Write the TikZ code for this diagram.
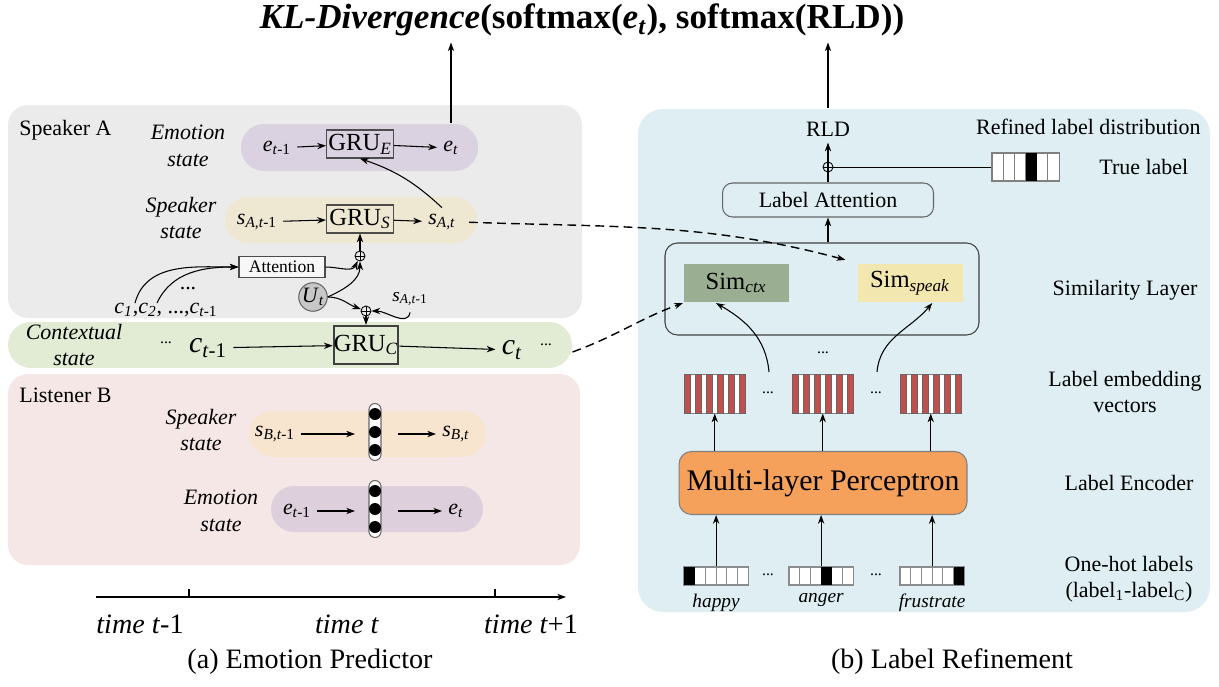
\documentclass[tikz,border=0pt]{standalone}
\usepackage{fontspec}
\setmainfont{LiberationSerif}[Extension=.ttf, UprightFont=*-Regular, BoldFont=*-Bold, ItalicFont=*-Italic, BoldItalicFont=*-BoldItalic]
\usepackage{xcolor}
\usepackage{tikz}
\usetikzlibrary{positioning, arrows.meta, fit}

\definecolor{paneA}{HTML}{EBEBEB}
\definecolor{paneB}{HTML}{F6E7E7}
\definecolor{paneR}{HTML}{DEEEF3}
\definecolor{ctxgreen}{HTML}{E2ECD5}
\definecolor{emopurple}{HTML}{DAD2E0}
\definecolor{emopurpleB}{HTML}{DDCFDB}
\definecolor{spkbeige}{HTML}{EEE8D2}
\definecolor{spkpeach}{HTML}{F8E5D0}
\definecolor{simgreen}{HTML}{9AAE91}
\definecolor{simyellow}{HTML}{F2E7AE}
\definecolor{mlporange}{HTML}{F5A05B}
\definecolor{embred}{HTML}{C0504D}

\newcommand{\ix}[2]{\textit{#1}\textsubscript{#2}}

\begin{document}
\begin{tikzpicture}[x=0.02cm, y=0.02cm, >={Stealth[length=5pt,width=3.6pt]}, line width=0.6pt,
    font=\fontsize{12.5}{15}\selectfont,
    pane/.style={rounded corners=0.4cm, inner sep=0pt},
    pill/.style={rounded corners=0.46cm, inner sep=0pt},
    gru/.style={draw=black!70, inner sep=0pt, minimum width=1.34cm, minimum height=0.56cm, font=\fontsize{14}{15}\selectfont},
    lbl/.style={align=center, font=\fontsize{12.5}{15.3}\selectfont\itshape},
    op/.style={circle, draw, inner sep=0pt, minimum size=0.2cm, line width=0.5pt,
      path picture={\draw (path picture bounding box.north) -- (path picture bounding box.south)
        (path picture bounding box.west) -- (path picture bounding box.east);}},
    dotcol/.style={draw=black!60, fill=white, rounded corners=0.12cm, minimum width=0.24cm, minimum height=1.14cm, inner sep=0pt},
    simbox/.style={minimum width=2.1cm, minimum height=0.78cm, inner sep=0pt, font=\fontsize{14}{16}\selectfont},
    side/.style={align=center, font=\fontsize{12.5}{14}\selectfont},
    ell/.style={font=\fontsize{9}{10}\selectfont},
    link/.style={->, dash pattern=on 5pt off 3pt, line width=0.8pt},
    figcap/.style={font=\fontsize{16}{19}\selectfont}]
  \useasboundingbox (0,0) rectangle (1219,-686);

  \node[pane, fill=paneA, fit={(8,-105) (582,-318)}] (spkA) {};
  \node[pill, fill=ctxgreen, fit={(8,-322) (572,-368)}] (ctx) {};
  \node[pane, fill=paneB, fit={(8,-374) (580,-565)}] (lisB) {};
  \node[pane, rounded corners=0.5cm, fill=paneR, fit={(638,-109) (1210,-612)}] (refine) {};
  \node[pill, fill=emopurple, fit={(241,-124) (478,-171)}] (emoA) {};
  \node[pill, fill=spkbeige, fit={(225,-197) (477,-243)}] (spA) {};
  \node[pill, fill=spkpeach, fit={(249,-411) (486,-457)}] (spB) {};
  \node[pill, fill=emopurpleB, fit={(271,-486) (483,-532)}] (emoB) {};

  \node[font=\fontsize{20}{24}\selectfont\bfseries] (kl) at (582,-20) {\textit{KL-Divergence}(softmax(\ix{e}{\textit{t}}), softmax(RLD))};

  % speaker A
  \node[anchor=west] (nmA) at (13,-130) {Speaker A};
  \node[lbl] (emoAl) at (188,-146) {Emotion\\state};
  \node[lbl] (spAl) at (181,-218) {Speaker\\state};
  \node (eA0) at (277,-148) {\ix{e}{\textit{t}-1}};
  \node[gru] (gruE) at (360,-144) {GRU\textsubscript{\textit{E}}};
  \node (eA1) at (451,-148) {\ix{e}{\textit{t}}};
  \node (sA0) at (257,-222) {\ix{s}{\textit{A,t}-1}};
  \node[gru] (gruS) at (360,-219) {GRU\textsubscript{\textit{S}}};
  \node (sA1) at (442,-222) {\ix{s}{\textit{A,t}}};
  \node[draw=black!70, fill=white!60!paneA, inner sep=0pt, minimum width=1.72cm, minimum height=0.42cm, font=\fontsize{10}{12}\selectfont] (att) at (282,-267) {Attention};
  \node (clist) at (166,-310) {\ix{c}{\textit{1}},\ix{c}{\textit{2}}, ...,\ix{c}{\textit{t}-1}};
  \node (cdots) at (188,-289) {...};
  \coordinate (cA) at (135,-303);
  \coordinate (cB) at (157,-303);
  \node[circle, draw=black!60, fill=black!22, minimum size=0.52cm, inner sep=0pt] (ut) at (313,-297) {\ix{U}{\textit{t}}};
  \node[op] (op1) at (360,-256) {};
  \node[op] (op2) at (366,-311) {};
  \node[font=\fontsize{11}{13}\selectfont] (sAprev) at (410,-299) {\ix{s}{\textit{A,t}-1}};

  % contextual state
  \node[lbl] (ctxl) at (74,-345) {Contextual\\state};
  \node[ell] (cdl) at (166,-343) {...};
  \node[font=\fontsize{17}{20}\selectfont] (c0) at (208,-348) {\ix{c}{\textit{t}-1}};
  \node[gru, draw=black!75, line width=1.2pt, minimum width=1.22cm, minimum height=0.76cm] (gruC) at (366,-345) {GRU\textsubscript{\textit{C}}};
  \node[font=\fontsize{17}{20}\selectfont] (c1) at (512,-350) {\ix{c}{\textit{t}}};
  \node[ell] (cdr) at (546,-345) {...};

  % listener B
  \node[anchor=west] (nmB) at (13,-395) {Listener B};
  \node[lbl] (spBl) at (201,-430) {Speaker\\state};
  \node[lbl] (emoBl) at (221,-511) {Emotion\\state};
  \node (sB0) at (275,-434) {\ix{s}{\textit{B,t}-1}};
  \node[dotcol] (colS) at (375,-432) {};
  \node (sB1) at (456,-434) {\ix{s}{\textit{B,t}}};
  \node (eB0) at (297,-511) {\ix{e}{\textit{t}-1}};
  \node[dotcol] (colE) at (375,-509) {};
  \node (eB1) at (456,-511) {\ix{e}{\textit{t}}};
  \foreach \col in {colS, colE}
    \foreach \d in {-18,0,18}
      \fill ([yshift=\d*0.02cm]\col.center) circle (6);

  % time axis
  \coordinate (t0) at (96,-597);
  \coordinate (t1) at (566,-597);
  \draw[->] (t0) -- (t1);
  \foreach \tx in {189,495}
    \draw (\tx,-589) -- (\tx,-597);
  \node[figcap] (tm0) at (140,-624) {\textit{time t}-1};
  \node[figcap] (tm1) at (347,-624) {\textit{time t}};
  \node[figcap] (tm2) at (531,-624) {\textit{time t}+1};
  \node[figcap] (capA) at (310,-662) {(a) Emotion Predictor};

  % label refinement
  \node (rld) at (828,-129) {RLD};
  \node[anchor=east] (rldl) at (1207,-127) {Refined label distribution};
  \node[op] (op3) at (828,-167) {};
  \foreach \k in {0,...,5}
    \filldraw[draw=black!50, fill=white] (992+\k*11.17,-153) rectangle ++(11.17,-28);
  \fill (992+3*11.17,-153) rectangle ++(11.17,-28);
  \node[fit={(992,-153) (1059,-181)}, inner sep=0pt] (truev) {};
  \node[anchor=west] (truel) at (1093,-167) {True label};
  \node[draw=black!60, rounded corners=0.2cm, minimum width=4.22cm, minimum height=0.68cm, inner sep=0pt] (latt) at (828,-200) {Label Attention};
  \node[draw=black!75, rounded corners=0.25cm, fit={(665,-243) (979,-335)}, inner sep=0pt] (sim) {};
  \node[simbox, fill=simgreen] (simctx) at (736,-283) {Sim\textsubscript{\textit{ctx}}};
  \node[simbox, fill=simyellow] (simspk) at (910,-283) {Sim\textsubscript{\textit{speak}}};
  \node[side] (siml) at (1125,-290) {Similarity Layer};
  \node[ell] (embdots) at (823,-353) {...};
  \foreach \gx [count=\g] in {684,792,900} {
    \filldraw[draw=black!50, line width=0.3pt, fill=white] (\gx,-374) rectangle ++(61.5,-39);
    \foreach \k in {0,...,5}
      \filldraw[draw=black!60, line width=0.3pt, fill=embred] (\gx+\k*11,-374) rectangle ++(6.5,-39);
    \node[fit={(\gx,-374) (\gx+61.5,-413)}, inner sep=0pt] (emb\g) {};
  }
  \node[ell] (ed1) at (768,-393) {...};
  \node[ell] (ed2) at (876,-393) {...};
  \coordinate (up1) at (769,-372);
  \coordinate (up2) at (877,-372);
  \node[side, font=\fontsize{12.5}{14.5}\selectfont] (embl) at (1125,-392) {Label embedding\\vectors};
  \node[draw=black!50, fill=mlporange, rounded corners=0.25cm, minimum width=5.76cm, minimum height=1.26cm, inner sep=0pt, font=\fontsize{17}{20}\selectfont] (mlp) at (823,-483) {Multi-layer Perceptron};
  \node[side] (encl) at (1129,-483) {Label Encoder};
  \foreach \ox/\hot/\emo [count=\g] in {684/0/happy, 789/3/anger, 900/5/frustrate} {
    \foreach \k in {0,...,5}
      \filldraw[draw=black!45, fill=white] (\ox+\k*10.7,-567) rectangle ++(10.7,-18);
    \fill (\ox+\hot*10.7,-567) rectangle ++(10.7,-18);
    \node[fit={(\ox,-567) (\ox+64.2,-585)}, inner sep=0pt] (oh\g) {};
    \node[font=\fontsize{11}{13}\selectfont\itshape, below=1pt of oh\g] (ohl\g) {\emo};
    \draw[->] (oh\g.north) -- (mlp.south -| oh\g);
    \draw[->] (mlp.north -| emb\g) -- (emb\g.south);
  }
  \node[ell] (od1) at (768,-575) {...};
  \node[ell] (od2) at (876,-575) {...};
  \node[side] (ohl) at (1129,-564) {One-hot labels};
  \node[side] (ohr) at (1129,-592) {(label\textsubscript{1}-label\textsubscript{C})};
  \node[figcap] (capB) at (952,-662) {(b) Label Refinement};

  % connectors
  \draw[->] (emoA.north -| eA1) -- (eA1 |- kl.south);
  \draw[->] (refine.north -| rld) -- (rld |- kl.south);
  \draw[->] (eA0) -- (gruE);
  \draw[->] (gruE) -- (eA1);
  \draw[->] (sA0) -- (gruS);
  \draw[->] (gruS) -- (sA1);
  \draw[->] (sA1.north) to[bend right=12] (gruE.south);
  \draw[->] (op1) -- (gruS.south);
  \draw[->] (att.east) to[out=0, in=-115] (op1);
  \draw[->] (ut.east) to[out=25, in=-90] (op1);
  \draw[->] (ut.east) to[out=0, in=160] (op2);
  \draw[->] (sAprev.south) to[out=-100, in=0] (op2);
  \draw[->] (op2) -- (gruC);
  \draw[->] (cA) to[out=75, in=180] (att.west);
  \draw[->] (cB) to[out=65, in=180] (att.west);
  \draw[->] (c0) -- (gruC);
  \draw[->] (gruC) -- (c1);
  \draw[->, shorten >=0.27cm] (sB0) -- (sB0 -| colS.west);
  \draw[->, shorten <=0.33cm] (sB1 -| colS.east) -- (sB1);
  \draw[->, shorten >=0.27cm] (eB0) -- (eB0 -| colE.west);
  \draw[->, shorten <=0.33cm] (eB1 -| colE.east) -- (eB1);
  \draw[->] (latt) -- (rld);
  \draw[line width=0.4pt] (truev.west) -- (op3);
  \draw[->] (sim.north -| latt) -- (latt.south);
  \draw[->] (up1) to[out=95, in=-30] (simctx.225);
  \draw[->] (up2) to[out=85, in=-130] (simspk.-42);
  \draw[link, shorten <=0.14cm, shorten >=0.24cm] (sA1.east) to[out=-2, in=165] (simspk.north west);
  \draw[link] ([yshift=-0.14cm]ctx.east) to[out=20, in=200] (simctx.south west);
\end{tikzpicture}
\end{document}
